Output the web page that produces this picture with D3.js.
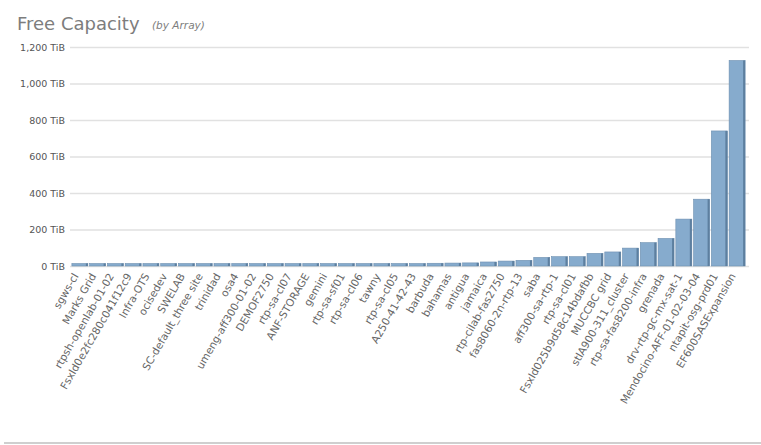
<!DOCTYPE html>
<html>
<head>
<meta charset="utf-8">
<script src="https://cdn.jsdelivr.net/npm/d3@7"></script>
<style>
  body { margin: 0; background: #fff; }
  svg { display: block; }
</style>
</head>
<body>
<div id="chart"></div>
<script>
const arrays = [
  "sgws-cl", "Marks Grid", "rtpsh-openlab-01-02", "Fsxld0e2fc280c041f12c9", "Infra-OTS",
  "ocisedev", "SWELAB", "SC-default_three site", "trinidad", "osa4",
  "umeng-aff300-01-02", "DEMOF2750", "rtp-sa-cl07", "ANF-STORAGE", "gemini",
  "rtp-sa-sf01", "rtp-sa-cl06", "tawny", "rtp-sa-cl05", "A250-41-42-43",
  "barbuda", "bahamas", "antigua", "jamaica", "rtp-cilab-fas2750",
  "fas8060-2n-rtp-13", "saba", "aff300-sa-rtp-1", "rtp-sa-cl01", "Fsxld025b9d58c14bdafbb",
  "MUCCBC grid", "stlA900-311_cluster", "rtp-sa-fas8200-infra", "grenada", "drv-rtp-gc-mx-sat-1",
  "Mendocino-AFF-01-02-03-04", "ntapit-osg-prd01", "EF600SASExpansion"
];

const freeTiB = [
  1, 1, 1, 1, 1,
  2, 2, 2, 2, 2,
  3, 3, 3, 4, 5,
  6, 7, 8, 12, 13,
  15, 16, 17, 22, 27,
  31, 47, 51, 51, 69,
  77, 98, 128, 151, 257,
  366, 740, 1126
];

const yTicks = [0, 200, 400, 600, 800, 1000, 1200];

const width = 761, height = 445;
const margin = { left: 70, right: 12, top: 47, bottom: 179 };

const svg = d3.select("#chart").append("svg")
  .attr("width", width).attr("height", height);

// title
svg.append("text").attr("x", 17).attr("y", 30)
  .attr("font-family", "DejaVu Sans, sans-serif").attr("font-size", 18)
  .attr("fill", "#7d7d7d").text("Free Capacity");
svg.append("text").attr("x", 152).attr("y", 29)
  .attr("font-family", "DejaVu Sans, sans-serif").attr("font-size", 10.5)
  .attr("font-style", "italic").attr("fill", "#7d7d7d").text("(by Array)");

const x = d3.scaleBand().domain(arrays)
  .range([margin.left + 1, width - margin.right - 3]).paddingInner(0.1).paddingOuter(0.05);
const y = d3.scaleLinear().domain([0, 1200]).range([height - margin.bottom, margin.top]);

// grid + y labels
const yAxis = svg.append("g").attr("transform", `translate(${margin.left},0)`)
  .call(d3.axisLeft(y).tickValues(yTicks).tickSize(-(width - margin.left - margin.right))
    .tickFormat(d => d3.format(",")(d) + " TiB"));
yAxis.select(".domain").remove();
yAxis.selectAll(".tick line").attr("stroke", "#e1e1e1").attr("stroke-width", 1.5);
yAxis.selectAll(".tick text").attr("x", -5)
  .attr("font-family", "DejaVu Sans, sans-serif").attr("font-size", 9.5).attr("fill", "#555");

// bars (min visible height like the original)
const barTop = i => Math.min(y(freeTiB[i]), y(0) - 2.5);
const bars = svg.append("g").selectAll("g").data(arrays).join("g");
bars.append("rect")
  .attr("x", d => x(d)).attr("width", x.bandwidth())
  .attr("y", (d, i) => barTop(i))
  .attr("height", (d, i) => y(0) - barTop(i))
  .attr("fill", "#86abcd").attr("stroke", "#6d8fb0").attr("stroke-width", 0.6);
bars.append("rect")
  .attr("x", d => x(d) + x.bandwidth() - 2).attr("width", 2)
  .attr("y", (d, i) => barTop(i))
  .attr("height", (d, i) => y(0) - barTop(i))
  .attr("fill", "#5d7f9f");

// x labels
const xAxis = svg.append("g").attr("transform", `translate(0,${y(0)})`)
  .call(d3.axisBottom(x).tickSize(0).tickPadding(0));
xAxis.select(".domain").remove();
xAxis.selectAll(".tick text")
  .attr("font-family", "DejaVu Sans, sans-serif").attr("font-size", 10.5).attr("fill", "#666")
  .attr("text-anchor", "end").attr("dy", 0)
  .attr("transform", "translate(-1,10) rotate(-60)");

// bottom border
svg.append("line").attr("x1", 4).attr("x2", width).attr("y1", 443).attr("y2", 443)
  .attr("stroke", "#cfcfcf").attr("stroke-width", 2);
</script>
</body>
</html>
